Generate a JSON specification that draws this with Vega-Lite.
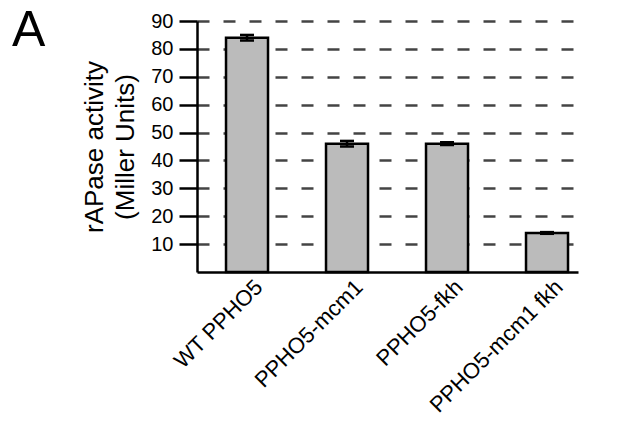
{
  "$schema": "https://vega.github.io/schema/vega-lite/v6.json",
  "width": 381,
  "height": 251,
  "autosize": {"type": "none"},
  "padding": {"left": 197, "top": 21, "right": 52, "bottom": 149},
  "background": "white",
  "title": {"text": "A", "anchor": "start", "frame": "group", "fontSize": 50, "font": "Liberation Sans", "fontWeight": "normal", "color": "black", "dx": -185, "dy": 85, "offset": 0, "baseline": "alphabetic"},
  "config": {"view": {"stroke": null}, "font": "Liberation Sans"},
  "data": {"values": [
    {"strain": "WT PPHO5", "activity": 84, "lo": 83, "hi": 85},
    {"strain": "PPHO5-mcm1", "activity": 46, "lo": 45, "hi": 47},
    {"strain": "PPHO5-fkh", "activity": 46, "lo": 45.5, "hi": 46.5},
    {"strain": "PPHO5-mcm1 fkh", "activity": 14, "lo": 13.7, "hi": 14.3}
  ]},
  "encoding": {
    "x": {"field": "strain", "type": "nominal", "sort": null,
      "scale": {"paddingInner": 0.58, "paddingOuter": 0.195, "align": 0.744},
      "axis": {"title": null, "ticks": false, "labelAngle": -45, "labelFontSize": 22, "labelLimit": 400, "labelColor": "black", "labelPadding": 4, "labelOffset": 5, "domainColor": "black", "domainWidth": 2.5, "grid": false}},
    "y": {"field": "activity", "type": "quantitative",
       "scale": {"domain": [0, 90], "nice": false, "zero": true},
       "axis": {"values": [10, 20, 30, 40, 50, 60, 70, 80, 90], "tickCount": 9, "labelOverlap": false,
         "title": ["rAPase activity", "(Miller Units)"], "titleFontSize": 26, "titleFontWeight": "normal", "titleColor": "black", "titleLineHeight": 31, "titlePadding": 12,
         "labelFontSize": 20, "labelColor": "black", "labelPadding": 6,
         "tickSize": 18, "tickWidth": 2.5, "tickColor": "black",
         "domainColor": "black", "domainWidth": 2.5,
         "grid": true, "gridDash": [12, 14], "gridColor": "#444444", "gridWidth": 2.5, "gridOpacity": 1}}
  },
  "layer": [
    {"mark": {"type": "bar", "fill": "#bbbbbb", "stroke": "black", "strokeWidth": 2.5}},
    {"mark": {"type": "rule", "strokeWidth": 2.5, "color": "black"},
     "encoding": {"y": {"field": "lo", "type": "quantitative"}, "y2": {"field": "hi"}}},
    {"mark": {"type": "tick", "orient": "horizontal", "size": 14, "thickness": 2.5, "color": "black", "opacity": 1},
     "encoding": {"y": {"field": "hi", "type": "quantitative"}}},
    {"mark": {"type": "tick", "orient": "horizontal", "size": 14, "thickness": 2.5, "color": "black", "opacity": 1},
     "encoding": {"y": {"field": "lo", "type": "quantitative"}}}
  ]
}
